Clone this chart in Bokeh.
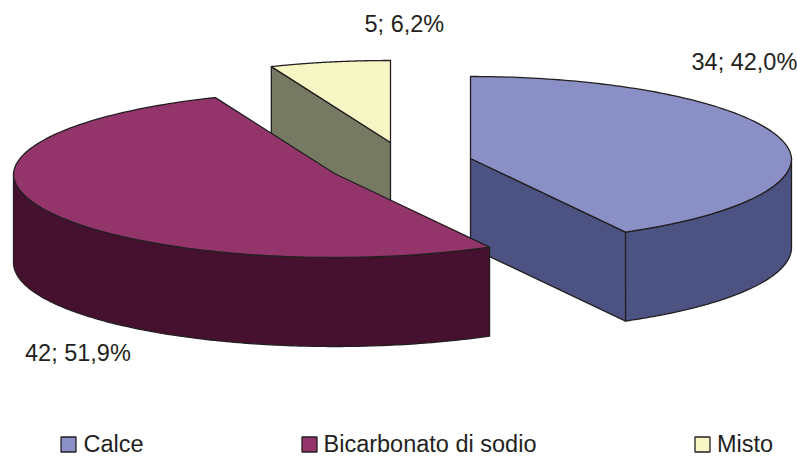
import numpy as np
from bokeh.plotting import figure
from bokeh.embed import file_html
from bokeh.resources import INLINE
from bokeh.core.properties import value

categories = ["Calce", "Bicarbonato di sodio", "Misto"]
values = [34, 42, 5]
top_colors = ["#8A8FC5", "#93356A", "#F6F6C5"]
wall_colors = ["#4C5382", "#46102F", "#767A62"]

INK = "#231F20"
FONT = value("Liberation Sans")

W, H = 797, 457
# layout of the exploded pie, in page pixels
centers = [(470, 158), (334, 173), (390, 142)]
RX, RY_BACK, RY_FRONT, DEPTH = 321, 82, 84, 89
label_pos = [(691, 61.5), (24.5, 352.5), (364, 23.5)]
legend_marker_x = [68, 309, 702]
legend_text_x = [83, 323, 716.5]
LEGEND_MARKER_Y = 444
LEGEND_Y = 443

total = sum(values)
fractions = [v / total for v in values]
edges = np.cumsum([0] + fractions) * 2 * np.pi


def rim(c, t):
    t = np.asarray(t, dtype=float)
    ry = np.where(np.cos(t) > 0, RY_BACK, RY_FRONT)
    rx = RX * (1 - 0.02 * np.maximum(np.cos(t), 0))
    return c[0] + rx * np.sin(t), c[1] - ry * np.cos(t)


p = figure(width=W, height=H, x_range=(0, W), y_range=(H, 0),
           output_backend="svg", toolbar_location=None,
           min_border=0, outline_line_color=None)
p.axis.visible = False
p.grid.visible = False

style = dict(line_color=INK, line_width=1.3, line_join="round")
slices = []
for i in range(3):
    t = np.linspace(edges[i], edges[i + 1], 160)
    slices.append((i, centers[i], t, edges[i], edges[i + 1]))


def draw_walls(i, c, t0, t1):
    # outer wall on the front half of the rim
    a, b = max(t0, np.pi / 2), min(t1, 3 * np.pi / 2)
    if b > a:
        tt = np.linspace(a, b, 160)
        x, y = rim(c, tt)
        p.patch(np.r_[x, x[::-1]], np.r_[y, y[::-1] + DEPTH],
                fill_color=wall_colors[i], **style)


def draw_cut(i, c, t_edge):
    x, y = rim(c, [t_edge])
    p.patch([c[0], x[0], x[0], c[0]],
            [c[1], y[0], y[0] + DEPTH, c[1] + DEPTH],
            fill_color=wall_colors[i], **style)


def draw_top(i, c, t):
    x, y = rim(c, t)
    p.patch(np.r_[c[0], x], np.r_[c[1], y], fill_color=top_colors[i], **style)


# back to front: Misto, Calce, Bicarbonato
i, c, t, t0, t1 = slices[2]
draw_cut(i, c, t0)
draw_top(i, c, t)

i, c, t, t0, t1 = slices[0]
draw_cut(i, c, t1)
draw_walls(i, c, t0, t1)
draw_top(i, c, t)

i, c, t, t0, t1 = slices[1]
draw_walls(i, c, t0, t1)
draw_top(i, c, t)

labels = [f"{v}; {100 * f:.1f}%".replace(".", ",") for v, f in zip(values, fractions)]
p.text([q[0] for q in label_pos], [q[1] for q in label_pos], text=labels,
       text_font=FONT, text_font_size="23.5px", text_color=INK,
       text_baseline="middle", text_align="left")

p.scatter(legend_marker_x, [LEGEND_MARKER_Y] * 3, marker="square", size=15,
          fill_color=top_colors, line_color=INK, line_width=1.3)
p.text(legend_text_x, [LEGEND_Y] * 3, text=categories,
       text_font=FONT, text_font_size="23.5px", text_color=INK,
       text_baseline="middle", text_align="left")

open("out.html", "w").write(file_html(p, INLINE))
